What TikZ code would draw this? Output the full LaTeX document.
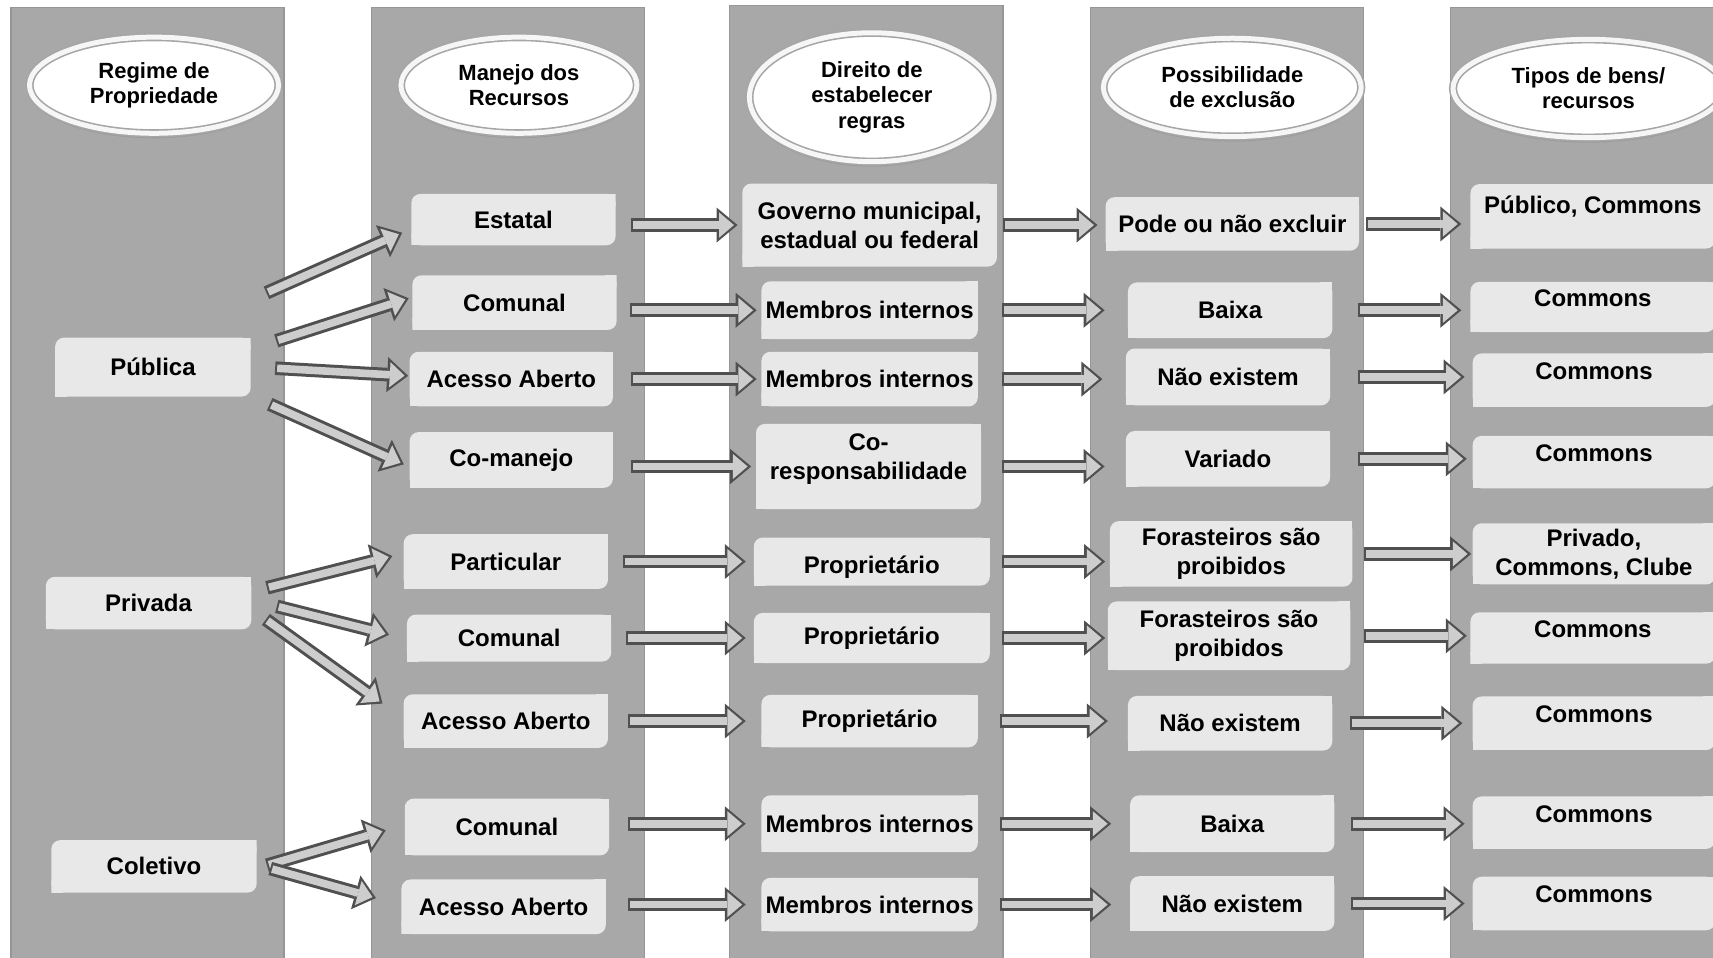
\documentclass[tikz,border=0pt]{standalone}
\usepackage{fontspec}
\setmainfont{Liberation Sans}
\usetikzlibrary{arrows.meta,shapes.geometric,shadows,calc}

\definecolor{colgray}{RGB}{168,168,168}
\definecolor{coledge}{RGB}{150,150,150}
\definecolor{cellgray}{RGB}{232,232,232}
\definecolor{arrowdark}{RGB}{80,80,80}
\definecolor{arrowlight}{RGB}{205,205,205}
\newcommand{\pu}{0.54625pt}

\tikzset{
  column/.style={fill=colgray, draw=coledge, line width=0.6pt},
  size/.style 2 args={minimum width=#1*\pu, minimum height=#2*\pu},
  cell/.style={font=\fontsize{12}{14.5}\selectfont\bfseries, align=center, inner sep=0pt,
    path picture={
      \fill[cellgray, rounded corners=4.5pt] (path picture bounding box.south west) rectangle (path picture bounding box.north east);
      \fill[cellgray] (path picture bounding box.north east) rectangle ++(-6pt,-6pt);
      \fill[cellgray] (path picture bounding box.south west) rectangle ++(6pt,6pt);
    }},
  header/.style={ellipse, fill=white, draw=gray!70, line width=0.8pt, double=white!93!gray,
    double distance=2.5pt, inner sep=0pt, align=center, font=\fontsize{11}{12.6}\selectfont\bfseries,
    drop shadow={opacity=0.3, shadow xshift=0pt, shadow yshift=-2.5pt}},
  flow/.style={
    preaction={draw=arrowdark, line width=6.8pt, shorten >=0pt, shorten <=0pt,
      -{Triangle[length=10.5pt, width=17.5pt, line width=0pt]}},
    draw=arrowlight, line width=3.8pt, shorten >=1.8pt, shorten <=1pt,
    -{Triangle[length=7.4pt, width=12.6pt, line width=0pt]}}
}

\begin{document}
\begin{tikzpicture}[x=\pu, y=-\pu]
  \useasboundingbox (0,0) rectangle (1568,876);
  \fill[white] (0,0) rectangle (1568,876);

  % columns
  \foreach \l/\t in {10/7, 340/7, 668/5, 998/7, 1328/7}
    \draw[column] (\l,\t) rectangle ++(250,880);

  % headers
  \node[header, size={228}{88}] (hreg) at (141,78) {Regime de\\Propriedade};
  \node[header, size={216}{88}] (hman) at (475,78) {Manejo dos\\Recursos};
  \node[header, size={224}{118}] (hdir) at (798,89) {Direito de\\estabelecer\\regras};
  \node[header, size={236}{90}] (hpos) at (1128,80) {Possibilidade\\de exclusão};
  \node[header, size={248}{90}] (htip) at (1454,81) {Tipos de bens/\\recursos};

  % regime
  \node[cell, size={179}{54}] (pub) at (140,336) {Pública};
  \node[cell, size={188}{48}] (pri) at (136,552) {Privada};
  \node[cell, size={188}{48}] (col) at (141,793) {Coletivo};

  % manejo
  \node[cell, size={187}{47}] (est) at (470,201) {Estatal};
  \node[cell, size={187}{50}] (comA) at (471,277) {Comunal};
  \node[cell, size={186}{50}] (aceA) at (468,347) {Acesso Aberto};
  \node[cell, size={186}{51}] (coman) at (468,421) {Co-manejo};
  \node[cell, size={187}{50}] (part) at (463,514) {Particular};
  \node[cell, size={187}{43}] (comB) at (466,584) {Comunal};
  \node[cell, size={187}{49}] (aceB) at (463,660) {Acesso Aberto};
  \node[cell, size={187}{52}] (comC) at (464,757) {Comunal};
  \node[cell, size={187}{50}] (aceC) at (461,830) {Acesso Aberto};

  % direito
  \node[cell, size={233}{76}] (gov) at (796,206) {Governo municipal,\\estadual ou federal};
  \node[cell, size={198}{53}] (memA) at (796,284) {Membros internos};
  \node[cell, size={198}{50}] (memB) at (796,347) {Membros internos};
  \node[cell, size={206}{78}, text depth=10pt] (cores) at (795,427) {Co-\\responsabilidade};
  \node[cell, size={216}{44}, text height=14pt] (propA) at (798,514) {Proprietário};
  \node[cell, size={216}{46}] (propB) at (798,584) {Proprietário};
  \node[cell, size={198}{48}] (propC) at (796,660) {Proprietário};
  \node[cell, size={198}{52}] (memC) at (796,754) {Membros internos};
  \node[cell, size={198}{49}] (memD) at (796,828) {Membros internos};

  % exclusao
  \node[cell, size={232}{49}] (pode) at (1128,205) {Pode ou não excluir};
  \node[cell, size={187}{51}] (baiA) at (1126,284) {Baixa};
  \node[cell, size={187}{52}] (naoA) at (1124,345) {Não existem};
  \node[cell, size={187}{51}] (var) at (1124,420) {Variado};
  \node[cell, size={222}{60}] (forA) at (1127,507) {Forasteiros são\\proibidos};
  \node[cell, size={222}{63}] (forB) at (1125,582) {Forasteiros são\\proibidos};
  \node[cell, size={187}{50}] (naoB) at (1126,662) {Não existem};
  \node[cell, size={187}{52}] (baiB) at (1128,754) {Baixa};
  \node[cell, size={187}{50}] (naoC) at (1128,827) {Não existem};

  % tipos de bens
  \node[cell, size={224}{59}, text depth=11.5pt] (pubc) at (1458,198) {Público, Commons};
  \node[cell, size={224}{46}, text depth=9pt] (cmA) at (1458,281) {Commons};
  \node[cell, size={222}{49}, text depth=9pt] (cmB) at (1459,348) {Commons};
  \node[cell, size={222}{48}, text depth=9pt] (cmC) at (1459,423) {Commons};
  \node[cell, size={222}{56}] (prc) at (1459,507) {Privado,\\Commons, Clube};
  \node[cell, size={224}{47}, text depth=9pt] (cmD) at (1458,584) {Commons};
  \node[cell, size={222}{49}, text depth=9pt] (cmE) at (1459,662) {Commons};
  \node[cell, size={222}{48}, text depth=9pt] (cmF) at (1459,753) {Commons};
  \node[cell, size={222}{49}, text depth=9pt] (cmG) at (1459,827) {Commons};

  % regime -> manejo
  \draw[flow] ([shift={(14,-68)}]pub.east) -- ([shift={(-8,12)}]est.west);
  \draw[flow] ([shift={(23,-24)}]pub.east) -- ([shift={(-3,-4)}]comA.west);
  \draw[flow] ([shift={(22,1)}]pub.east) -- ([shift={(-1,-3)}]aceA.west);
  \draw[flow] ([shift={(17,34)}]pub.east) -- ([shift={(-5,4)}]coman.west);
  \draw[flow] ([shift={(14,-14)}]pri.east) -- ([shift={(-10,-5)}]part.west);
  \draw[flow] ([shift={(23,3)}]pri.east) -- ([shift={(-16,-3)}]comB.west);
  \draw[flow] ([shift={(13,15)}]pri.east) -- ([shift={(-19,-16)}]aceB.west);
  \draw[flow] ([shift={(9,-1)}]col.east) -- ([shift={(-17,3)}]comC.west);
  \draw[flow] ([shift={(12,2)}]col.east) -- ([shift={(-23,-8)}]aceC.west);

  % manejo -> direito
  \foreach \a/\b/\s/\e in {est/gov/14/4, comA/memA/12/4, aceA/memB/16/4, coman/cores/16/4,
      part/propA/13/7, comB/propB/13/7, aceB/propC/18/14, comC/memC/17/14, aceC/memD/20/14}
    \draw[flow] ($(\a.east |- \b.west)+(\s,0)$) -- ($(\b.west)+(-\e,0)$);

  % direito -> exclusao
  \foreach \a/\b/\s/\e in {gov/pode/5/7, memA/baiA/22/21, memB/naoA/22/21, cores/var/19/19,
      propA/forA/11/4, propB/forB/11/2, propC/naoB/20/18, memC/baiB/20/17, memD/naoC/20/17}
    \draw[flow] ($(\a.east)+(\s,0)$) -- ($(\a.east -| \b.west)+(-\e,0)$);

  % exclusao -> tipos
  \foreach \a/\b/\s/\e in {pode/pubc/6/8, baiA/cmA/23/8, naoA/cmB/25/7, var/cmC/25/5,
      forA/prc/10/1, forB/cmD/12/3, naoB/cmE/16/9, baiB/cmF/15/7, naoC/cmG/15/7}
    \draw[flow] ($(\a.east)+(\s,0)$) -- ($(\a.east -| \b.west)+(-\e,0)$);
\end{tikzpicture}
\end{document}
